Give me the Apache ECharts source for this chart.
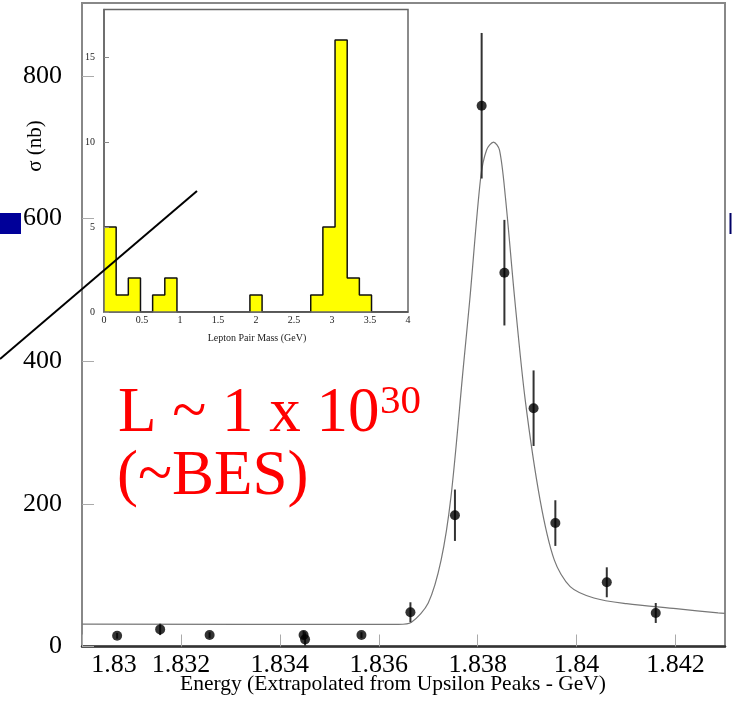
<!DOCTYPE html>
<html>
<head>
<meta charset="utf-8">
<script src="https://cdn.jsdelivr.net/npm/echarts@6/dist/echarts.min.js"></script>
<style>
  html, body { margin: 0; padding: 0; background: #fff; }
  #grafico { width: 732px; height: 705px; }
</style>
</head>
<body>
<div id="grafico"></div>
<script>
// pontos medidos (energia em GeV, sigma em nb, erro em nb)
const energia = [1.83071, 1.83158, 1.83258, 1.83448, 1.83451, 1.83565, 1.83664, 1.83754, 1.83808, 1.83854, 1.83913, 1.83957, 1.84061, 1.84160];
const sigma   = [15, 24, 16, 16, 10, 16, 48, 184, 758, 524, 334, 173, 90, 47];
const erroSigma = [4, 8, 4, 6, 10, 4, 14, 36, 102, 74, 53, 32, 21, 14];

// curva de ajuste
const ajusteEnergia = [1.8300, 1.8360, 1.8364, 1.83666, 1.83700, 1.83726, 1.83746, 1.83771, 1.83784, 1.83806, 1.83818, 1.83832, 1.83844, 1.83856, 1.83875, 1.83896, 1.83926, 1.83955, 1.83987, 1.84035, 1.84101, 1.84201, 1.84286, 1.8430];
const ajusteSigma   = [31.5, 31, 31, 34, 61, 121, 210, 392, 486, 657, 696, 707, 696, 630, 486, 346, 206, 121, 84, 68, 60, 53, 47, 46.5];

// histograma do detalhe (massa do par de leptons)
const bordasMassa = [0, 0.16, 0.32, 0.48, 0.64, 0.80, 0.96, 1.12, 1.28, 1.44, 1.60, 1.76, 1.92, 2.08, 2.24, 2.40, 2.56, 2.72, 2.88, 3.04, 3.20, 3.36, 3.52, 3.68, 3.84, 4.00];
const contagens   = [5, 1, 2, 0, 1, 2, 0, 0, 0, 0, 0, 0, 1, 0, 0, 0, 0, 1, 5, 16, 2, 1, 0, 0, 0];

const fonte = '"Liberation Serif", "DejaVu Serif", serif';

const grafico = echarts.init(document.getElementById('grafico'));

const dadosPontos = energia.map((e, i) => [e, sigma[i], erroSigma[i]]);
const dadosAjuste = ajusteEnergia.map((e, i) => [e, ajusteSigma[i]]);
const dadosHisto = bordasMassa.map((b, i) => [b, i < contagens.length ? contagens[i] : 0]);

const opcoes = {
    animation: false,
    backgroundColor: '#fff',
    grid: [
        { left: 82, top: 3, right: 7, bottom: 58.5, show: true, borderColor: '#888', borderWidth: 2, backgroundColor: '#fff' },
        { left: 104, top: 9.5, width: 304, height: 302.5, show: true, borderColor: '#666', borderWidth: 1.5, backgroundColor: '#fff', z: 5 }
    ],
    xAxis: [
        {
            gridIndex: 0, type: 'value', min: 1.83, max: 1.843, interval: 0.002,
            axisLine: { lineStyle: { color: '#333', width: 2.5 } },
            axisTick: { inside: true, length: 12, lineStyle: { color: '#aaa', width: 1 } },
            splitLine: { show: false },
            axisLabel: {
                margin: 6, fontSize: 26, fontFamily: fonte, color: '#000', showMaxLabel: false,
                formatter: v => {
                    const txt = String(parseFloat(v.toFixed(3)));
                    // o primeiro rotulo fica deslocado para a direita no original
                    return v <= 1.83 ? '{primeiro|' + txt + '}' : txt;
                },
                rich: {
                    primeiro: { fontSize: 26, fontFamily: fonte, color: '#000', padding: [0, 0, 0, 64] }
                }
            }
        },
        {
            gridIndex: 1, type: 'value', min: 0, max: 4, interval: 0.5,
            axisLine: { lineStyle: { color: '#666', width: 1.5 } },
            axisTick: { show: false },
            splitLine: { show: false },
            axisLabel: { margin: 3, fontSize: 10, fontFamily: fonte, color: '#222' },
            z: 6
        }
    ],
    yAxis: [
        {
            gridIndex: 0, type: 'value', min: 0, max: 902, interval: 200,
            axisLine: { show: true, lineStyle: { color: '#888', width: 1.5 } },
            axisTick: { show: true, inside: true, length: 12, lineStyle: { color: '#aaa', width: 1 } },
            splitLine: { show: false },
            axisLabel: { margin: 20, fontSize: 26, fontFamily: fonte, color: '#000', showMaxLabel: false }
        },
        {
            gridIndex: 1, type: 'value', min: 0, max: 17.8, interval: 5,
            axisLine: { show: true, lineStyle: { color: '#666', width: 1.5 } },
            axisTick: { show: true, inside: true, length: 5, lineStyle: { color: '#888', width: 1 } },
            splitLine: { show: false },
            axisLabel: { margin: 9, fontSize: 10, fontFamily: fonte, color: '#222', showMaxLabel: false },
            z: 6
        }
    ],
    series: [
        {
            // curva de ajuste
            type: 'line', xAxisIndex: 0, yAxisIndex: 0,
            data: dadosAjuste, showSymbol: false, smooth: 0.3,
            lineStyle: { color: '#777', width: 1.2 }, z: 2
        },
        {
            // barras de erro
            type: 'custom', xAxisIndex: 0, yAxisIndex: 0,
            data: dadosPontos, encode: { x: 0, y: 1 },
            renderItem: (params, api) => {
                const x = api.value(0), y = api.value(1), e = api.value(2);
                const baixo = api.coord([x, y - e]);
                const alto = api.coord([x, y + e]);
                return {
                    type: 'line',
                    shape: { x1: baixo[0], y1: baixo[1], x2: alto[0], y2: alto[1] },
                    style: { stroke: '#333', lineWidth: 2 }
                };
            },
            z: 3
        },
        {
            type: 'scatter', xAxisIndex: 0, yAxisIndex: 0,
            data: dadosPontos.map(p => [p[0], p[1]]),
            symbol: 'circle', symbolSize: 10,
            itemStyle: { color: '#000' }, z: 4
        },
        {
            // histograma em degraus
            type: 'line', xAxisIndex: 1, yAxisIndex: 1,
            data: dadosHisto, step: 'end', showSymbol: false,
            lineStyle: { color: '#111', width: 1.5 },
            areaStyle: { color: '#ffff00', opacity: 1 },
            z: 5
        }
    ],
    graphic: [
        { type: 'text', x: 35, y: 146, rotation: Math.PI / 2,
          style: { text: 'σ (nb)', font: '21px ' + fonte, fill: '#000', align: 'center', verticalAlign: 'middle' } },
        { type: 'text', x: 393, y: 684,
          style: { text: 'Energy (Extrapolated from Upsilon Peaks - GeV)', font: '21.5px ' + fonte, fill: '#000', align: 'center', verticalAlign: 'middle' } },
        { type: 'text', x: 257, y: 338, z: 10,
          style: { text: 'Lepton Pair Mass (GeV)', font: '10px ' + fonte, fill: '#222', align: 'center', verticalAlign: 'middle' } },
        { type: 'text', x: 118, y: 414, z: 10,
          style: { text: 'L ~ 1 x 10', font: '63px ' + fonte, fill: '#ff0000', align: 'left', verticalAlign: 'middle' } },
        { type: 'text', x: 380, y: 402, z: 10,
          style: { text: '30', font: '41px ' + fonte, fill: '#ff0000', align: 'left', verticalAlign: 'middle' } },
        { type: 'text', x: 117, y: 477, z: 10,
          style: { text: '(~BES)', font: '63px ' + fonte, fill: '#ff0000', align: 'left', verticalAlign: 'middle' } },
        { type: 'rect', shape: { x: 0, y: 213, width: 21, height: 21 }, style: { fill: '#000099' }, z: 10 },
        { type: 'line', shape: { x1: 730.5, y1: 213, x2: 730.5, y2: 234 }, style: { stroke: '#000066', lineWidth: 2 }, z: 10 },
        { type: 'line', shape: { x1: 0, y1: 359, x2: 197, y2: 191 }, style: { stroke: '#000', lineWidth: 2 }, z: 20 }
    ]
};

grafico.setOption(opcoes);
</script>
</body>
</html>
